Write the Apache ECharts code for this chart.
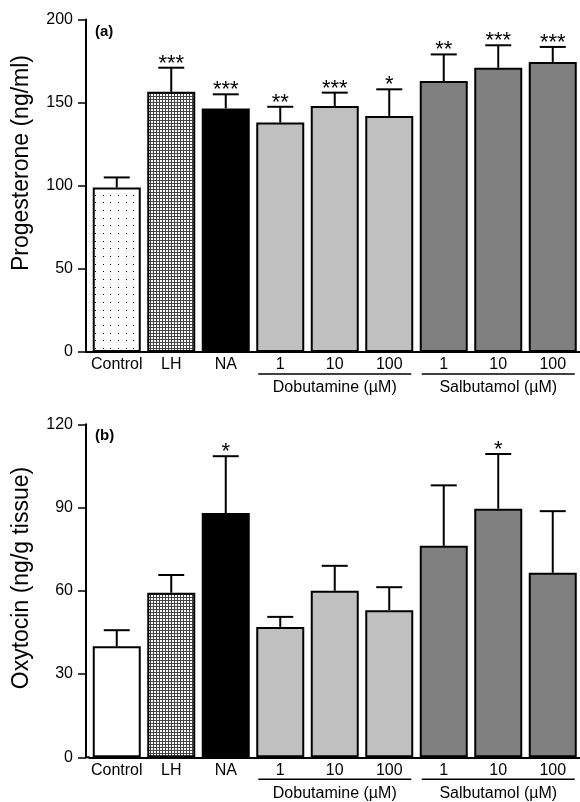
<!DOCTYPE html>
<html>
<head>
<meta charset="utf-8">
<script src="https://cdn.jsdelivr.net/npm/echarts@6/dist/echarts.min.js"></script>
<style>html,body{margin:0;padding:0;background:#fff}#c{width:580px;height:802px}</style>
</head>
<body>
<div id="c"></div>
<script>
// ---- data ----
const categories = ['Control', 'LH', 'NA', '1', '10', '100', '1', '10', '100'];
const progMean = [99, 156.5, 146.5, 138, 148, 142, 163, 171, 174.5];
const progSem = [6, 14.5, 8.5, 9.5, 8, 16, 16, 13.5, 9];
const progStars = ['', '***', '***', '**', '***', '*', '**', '***', '***'];
const oxyMean = [40, 59.3, 88, 47, 60, 53, 76.2, 89.6, 66.5];
const oxySem = [5.8, 6.4, 20.5, 3.6, 9, 8.3, 21.8, 19.7, 22.2];
const oxyStars = ['', '', '*', '', '', '', '', '*', ''];
const progTicks = [0, 50, 100, 150, 200];
const oxyTicks = [0, 30, 60, 90, 120];
const groups = [
  { name: 'Dobutamine (\u00B5M)', from: 3, to: 5 },
  { name: 'Salbutamol (\u00B5M)', from: 6, to: 8 }
];

// ---- patterns ----
function makeCanvas(w, h, draw) {
  const c = document.createElement('canvas'); c.width = w; c.height = h;
  const ctx = c.getContext('2d'); ctx.fillStyle = '#fff'; ctx.fillRect(0, 0, w, h);
  draw(ctx); return c;
}
const sparseDots = makeCanvas(23, 23, ctx => {
  ctx.fillStyle = '#000';
  [0, 8, 15].forEach(x => [0, 8, 15].forEach(y => ctx.fillRect(x + 3, y + 3, 1, 1)));
});
const denseGrid = makeCanvas(3, 3, ctx => {
  ctx.fillStyle = '#444';
  ctx.fillRect(0, 0, 3, 1); ctx.fillRect(0, 0, 1, 3);
});
const progFill = [
  { image: sparseDots, repeat: 'repeat' }, { image: denseGrid, repeat: 'repeat' }, '#000',
  '#c0c0c0', '#c0c0c0', '#c0c0c0', '#808080', '#808080', '#808080'
];
const oxyFill = [
  '#fff', { image: denseGrid, repeat: 'repeat' }, '#000',
  '#c0c0c0', '#c0c0c0', '#c0c0c0', '#808080', '#808080', '#808080'
];

const FONT = 'Liberation Sans, Arial, sans-serif';
const grids = [
  { left: 89.5, top: 19.5, width: 495, height: 332.5 },
  { left: 89.5, top: 424.3, width: 495, height: 333 }
];

function xAx(gi) {
  return {
    type: 'category', gridIndex: gi, data: categories,
    axisLine: { lineStyle: { color: '#000', width: 2 } },
    axisTick: { show: false },
    axisLabel: { color: '#000', fontSize: 16, fontFamily: FONT, margin: 5, interval: 0 }
  };
}
function yAx(gi, max, interval) {
  return {
    type: 'value', gridIndex: gi, min: 0, max: max, interval: interval, offset: 3.5,
    axisLine: { show: true, lineStyle: { color: '#000', width: 2 } },
    axisTick: { show: true, length: 8, lineStyle: { color: '#000', width: 1.5 } },
    axisLabel: { color: '#000', fontSize: 16, fontFamily: FONT, margin: 13 },
    splitLine: { show: false }
  };
}
function barSeries(gi, mean, fills) {
  return {
    type: 'bar', xAxisIndex: gi, yAxisIndex: gi, barWidth: 48,
    data: mean.map((v, i) => ({ value: v, itemStyle: { color: fills[i] } })),
    itemStyle: { borderColor: '#000', borderWidth: 2 },
    silent: true, animation: false
  };
}
function errSeries(gi, mean, sem, stars) {
  return {
    type: 'custom', xAxisIndex: gi, yAxisIndex: gi, z: 5, animation: false, silent: true,
    data: mean.map((v, i) => [i, v, sem[i]]),
    renderItem: function (params, api) {
      const i = api.value(0), v = api.value(1), e = api.value(2);
      const p0 = api.coord([i, v]), p1 = api.coord([i, v + e]);
      const half = 13;
      const st = { stroke: '#000', lineWidth: 2 };
      const ch = [
        { type: 'line', shape: { x1: p0[0], y1: p0[1], x2: p1[0], y2: p1[1] }, style: st },
        { type: 'line', shape: { x1: p1[0] - half, y1: p1[1], x2: p1[0] + half, y2: p1[1] }, style: st }
      ];
      if (stars[i]) {
        ch.push({ type: 'text', style: { text: stars[i], x: p1[0], y: p1[1] + 7, align: 'center',
          verticalAlign: 'bottom', font: '22px ' + FONT, fill: '#000' } });
      }
      return { type: 'group', children: ch };
    }
  };
}

const chart = echarts.init(document.getElementById('c'), null, { renderer: 'canvas' });
chart.setOption({
  animation: false,
  grid: grids,
  xAxis: [xAx(0), xAx(1)],
  yAxis: [yAx(0, 200, 50), yAx(1, 120, 30)],
  series: [
    barSeries(0, progMean, progFill), errSeries(0, progMean, progSem, progStars),
    barSeries(1, oxyMean, oxyFill), errSeries(1, oxyMean, oxySem, oxyStars)
  ]
});

// annotations: group lines / labels, axis names, panel letters
const g = [];
[0, 1].forEach(gi => {
  const base = chart.convertToPixel({ yAxisIndex: gi }, 0);
  const x0 = chart.convertToPixel({ xAxisIndex: gi }, 0) - 27.5 - 3.5;
  g.push({ type: 'line', shape: { x1: x0, y1: base, x2: x0 + 4, y2: base }, style: { stroke: '#000', lineWidth: 2 } });
  groups.forEach(gr => {
    const a = chart.convertToPixel({ xAxisIndex: gi }, gr.from) - 22;
    const b = chart.convertToPixel({ xAxisIndex: gi }, gr.to) + 22;
    g.push({ type: 'line', shape: { x1: a, y1: base + 22, x2: b, y2: base + 22 }, style: { stroke: '#000', lineWidth: 1.5 } });
    g.push({ type: 'text', x: (a + b) / 2, y: base + 36, style: { text: gr.name, align: 'center', verticalAlign: 'middle',
      font: '16px ' + FONT, fill: '#000' } });
  });
});
g.push({ type: 'text', x: 22, y: 163, rotation: Math.PI / 2, style: { text: 'Progesterone (ng/ml)', align: 'center', verticalAlign: 'middle', font: '23px ' + FONT, fill: '#000' } });
g.push({ type: 'text', x: 22, y: 578, rotation: Math.PI / 2, style: { text: 'Oxytocin (ng/g tissue)', align: 'center', verticalAlign: 'middle', font: '23px ' + FONT, fill: '#000' } });
g.push({ type: 'text', x: 95, y: 32, style: { text: '(a)', align: 'left', verticalAlign: 'middle', font: 'bold 15px ' + FONT, fill: '#000' } });
g.push({ type: 'text', x: 95, y: 436, style: { text: '(b)', align: 'left', verticalAlign: 'middle', font: 'bold 15px ' + FONT, fill: '#000' } });
chart.setOption({ graphic: g });
</script>
</body>
</html>
